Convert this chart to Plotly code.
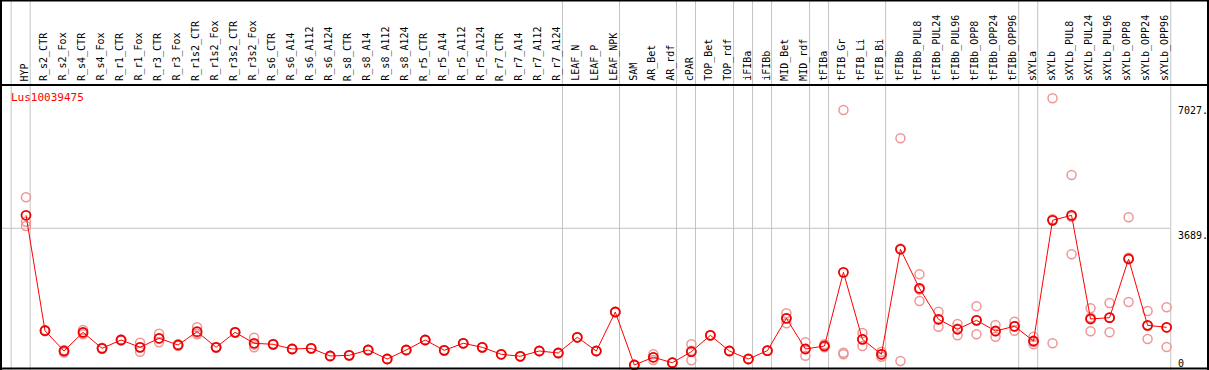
import plotly.graph_objects as go

categories = ["HYP", "R_s2_CTR", "R_s2_Fox", "R_s4_CTR", "R_s4_Fox", "R_r1_CTR", "R_r1_Fox",
              "R_r3_CTR", "R_r3_Fox", "R_r1s2_CTR", "R_r1s2_Fox", "R_r3s2_CTR", "R_r3s2_Fox",
              "R_s6_CTR", "R_s6_A14", "R_s6_A112", "R_s6_A124", "R_s8_CTR", "R_s8_A14",
              "R_s8_A112", "R_s8_A124", "R_r5_CTR", "R_r5_A14", "R_r5_A112", "R_r5_A124",
              "R_r7_CTR", "R_r7_A14", "R_r7_A112", "R_r7_A124", "LEAF_N", "LEAF_P", "LEAF_NPK",
              "SAM", "AR_Bet", "AR_rdf", "cPAR", "TOP_Bet", "TOP_rdf", "iFIBa", "iFIBb",
              "MID_Bet", "MID_rdf", "tFIBa", "tFIB_Gr", "tFIB_Li", "tFIB_Bi", "tFIBb",
              "tFIBb_PUL8", "tFIBb_PUL24", "tFIBb_PUL96", "tFIBb_OPP8", "tFIBb_OPP24",
              "tFIBb_OPP96", "sXYLa", "sXYLb", "sXYLb_PUL8", "sXYLb_PUL24", "sXYLb_PUL96",
              "sXYLb_OPP8", "sXYLb_OPP24", "sXYLb_OPP96"]

means = [4035, 961, 421, 918, 492, 714, 519, 759, 581, 935, 519, 918, 626,
         599, 474, 492, 288, 306, 447, 208, 447, 714, 439, 626, 519,
         333, 280, 421, 367, 786, 421, 1459,
         48, 253, 109, 402, 839, 421, 208, 429,
         1291, 474, 554, 2516, 732, 333, 3129,
         2090, 1265, 999, 1238, 953,
         1079, 687, 3901, 4034, 1273, 1308,
         2871, 1105, 1052]

rep1 = [4514, 980, 440, 980, 492, 714, 642, 882, 600, 1052, 519, 918, 775,
        599, 474, 492, 288, 306, 447, 208, 447, 714, 439, 626, 519,
        333, 280, 421, 367, 786, 421, 1459,
        48, 333, 109, 599, 839, 421, 208, 429,
        1425, 652, 599, 6839, 900, 402, 6085,
        2463, 1467, 1140, 1611, 1113,
        1201, 802, 7150, 5108, 1558, 1699,
        3981, 1486, 1584]

rep2 = [3864, 950, 380, 865, 480, 700, 402, 652, 560, 865, 510, 910, 519,
        590, 468, 488, 285, 300, 440, 205, 450, 710, 436, 620, 515,
        330, 276, 418, 362, 780, 418, 1450,
        45, 181, 105, 173, 835, 418, 204, 425,
        1158, 296, 520, 376, 554, 269, 154,
        1752, 1068, 839, 865, 802,
        961, 599, 626, 2996, 945, 918,
        1726, 740, 527]

rep3 = [3749, 955, 430, 910, 505, 725, 519, 745, 583, 890, 530, 925, 590,
        605, 480, 496, 292, 310, 452, 212, 444, 718, 442, 630, 522,
        336, 284, 424, 370, 790, 424, 1465,
        52, 250, 112, 430, 842, 424, 211, 433,
        1290, 474, 545, 333, 740, 330, 3148,
        2055, 1260, 1018, 1238, 944,
        1075, 660, 3927, 3998, 1316, 1307,
        2906, 1089, 1045]

group_ends = [-1, 0, 28, 31, 34, 35, 37, 38, 39, 41, 42, 45, 52, 53, 60]
tick_vals = [0, 3689, 7027]
tick_text = ["0", "3689.", "7027."]
gene = "Lus10039475"

W, H = 1209, 370
x0px, dx = 26.0, 19.01          # pixel position of first category and spacing
header_px = 85.0
zero_px, vpp = 366.8, 26.63     # pixel of value 0, value per pixel

xr = [(0 - x0px) / dx, (W - x0px) / dx]
yr = [-(H - zero_px) * vpp, (zero_px - header_px) * vpp]

xs = list(range(len(categories)))

fig = go.Figure()

rep_x = xs + xs + xs
rep_y = rep1 + rep2 + rep3
fig.add_trace(go.Scatter(
    x=rep_x, y=rep_y, mode="markers",
    marker=dict(symbol="circle-open", size=9, color="rgb(238,150,150)",
                line=dict(width=1.5, color="rgb(238,150,150)")),
    hoverinfo="skip", showlegend=False))

fig.add_trace(go.Scatter(
    x=xs, y=means, mode="lines+markers",
    line=dict(color="#ff0000", width=1),
    marker=dict(symbol="circle-open", size=9, color="#ee0000",
                line=dict(width=1.8, color="#ee0000")),
    showlegend=False))

shapes = []
# vertical group separators
for g in group_ends:
    shapes.append(dict(type="line", xref="x", yref="paper", x0=g + 0.22, x1=g + 0.22,
                       y0=0, y1=1, line=dict(color="#c4c4c4", width=1), layer="below"))
# horizontal grid at middle tick
shapes.append(dict(type="line", xref="paper", yref="y", x0=0, x1=1170 / W,
                   y0=tick_vals[1], y1=tick_vals[1], line=dict(color="#c4c4c4", width=1),
                   layer="below"))
# frame
def px_line(xa, ya, xb, yb):
    return dict(type="line", xref="paper", yref="paper",
                x0=xa / W, x1=xb / W, y0=1 - ya / H, y1=1 - yb / H,
                line=dict(color="black", width=2))
shapes += [px_line(0, 0.5, W, 0.5), px_line(1, 0, 1, H), px_line(W - 1, 0, W - 1, H),
           px_line(0, H - 1.5, W, H - 1.5), px_line(0, header_px, W, header_px)]

annotations = []
for i, c in enumerate(categories):
    annotations.append(dict(x=i - 0.08, y=1 - (header_px - 2) / H, xref="x", yref="paper",
                            text=c, textangle=-90, showarrow=False, xanchor="center",
                            yanchor="bottom", font=dict(family="DejaVu Sans Mono", size=10,
                                                        color="black")))
for v, t in zip(tick_vals, tick_text):
    annotations.append(dict(x=1176 / W, y=v, xref="paper", yref="y", text=t, showarrow=False,
                            xanchor="left", yanchor="bottom" if v == 0 else "top",
                            yshift=-4 if v == 0 else 0,
                            font=dict(family="DejaVu Sans Mono", size=10, color="black")))
annotations.append(dict(x=9 / W, y=1 - 97 / H, xref="paper", yref="paper", text=gene,
                        showarrow=False, xanchor="left", yanchor="middle",
                        font=dict(family="DejaVu Sans Mono", size=11, color="#ff0000")))

fig.update_layout(
    width=W, height=H, margin=dict(l=0, r=0, t=0, b=0),
    paper_bgcolor="white", plot_bgcolor="white",
    xaxis=dict(range=xr, visible=False, fixedrange=True),
    yaxis=dict(range=yr, domain=[0, 1 - header_px / H], visible=False, fixedrange=True),
    shapes=shapes, annotations=annotations,
)

fig.write_html("out.html", config={"displayModeBar": False},
               post_script="document.body.style.margin='0';document.body.style.overflow='hidden';")
